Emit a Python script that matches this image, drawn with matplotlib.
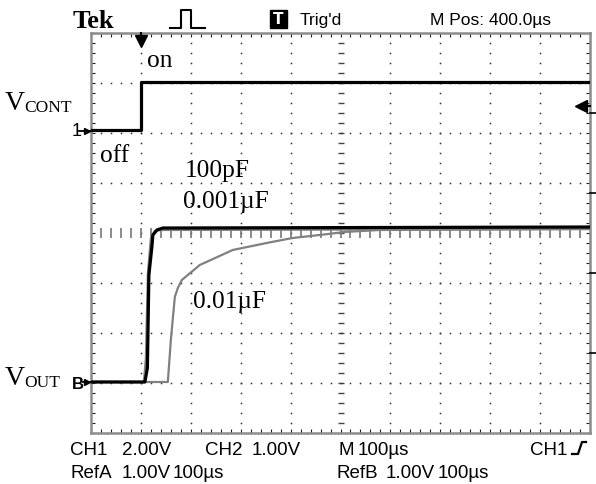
import matplotlib
matplotlib.use('Agg')
import matplotlib.pyplot as plt
import numpy as np

# ---- data (graticule divisions; 100 us/div horizontally) ----
vcont_t = [0, 1.0, 1.0, 10]
vcont_v = [6.06, 6.06, 7.02, 7.02]

v100p_t = [0, 1.08, 1.13, 1.16, 1.22, 1.24, 1.32, 1.44, 1.6, 10]
v100p_v = [1.02, 1.02, 1.3, 3.16, 3.72, 3.96, 4.06, 4.1, 4.1, 4.12]

v1n_t = [0, 1.06, 1.10, 1.14, 1.20, 1.28, 1.40, 10]
v1n_v = [1.02, 1.02, 1.5, 3.2, 3.9, 4.04, 4.06, 4.08]

v10n_t = [0, 1.54, 1.60, 1.68, 1.74, 1.82, 2.18, 2.84, 3.52, 4.04, 4.58, 5.08, 5.78, 10]
v10n_v = [1.02, 1.02, 1.86, 2.72, 2.9, 3.06, 3.36, 3.66, 3.8, 3.9, 3.96, 4.02, 4.06, 4.08]

W, H = 596, 484
SERIF = 'Liberation Serif'
SCOPE = ['Liberation Sans', 'DejaVu Sans']

fig = plt.figure(figsize=(W / 100, H / 100), dpi=100)
ax = fig.add_axes([91 / W, 51 / H, 499 / W, 400 / H])
ax.set_xlim(0, 10)
ax.set_ylim(0, 8)

# graticule
minor = np.arange(0.2, 10.0, 0.2)
minor_y = np.arange(0.2, 8.0, 0.2)
for gx in range(1, 10):
    if gx == 5:
        ax.plot(np.full_like(minor_y, 5.0), minor_y, ls='none', marker='_',
                ms=4, mew=1, color='#444444', zorder=1)
    else:
        ax.plot(np.full_like(minor_y, float(gx)), minor_y, ls='none', marker='s',
                ms=1.1, mew=0, color='#333333', zorder=1)
for gy in range(1, 8):
    if gy == 4:
        ax.plot(minor, np.full_like(minor, 4.0), ls='none', marker='|',
                ms=7, mew=1.2, color='#777777', zorder=1)
    else:
        ax.plot(minor, np.full_like(minor, float(gy)), ls='none', marker='s',
                ms=1.1, mew=0, color='#333333', zorder=1)

for s in ax.spines.values():
    s.set_color('#8c8c8c')
    s.set_linewidth(1.8)
ax.set_xticks(np.arange(0, 10.01, 0.2))
ax.set_yticks(np.arange(0, 8.01, 0.2))
ax.tick_params(direction='in', length=3, width=0.8, color='#222222',
               top=True, bottom=True, left=True, right=True,
               labelbottom=False, labelleft=False)

# traces
ax.plot(v10n_t, v10n_v, color='#808080', lw=1.6, zorder=3)
ax.plot(v1n_t, v1n_v, color='#808080', lw=1.6, zorder=3)
ax.plot(v100p_t, v100p_v, color='black', lw=2.3, zorder=4)
ax.plot(vcont_t, vcont_v, color='black', lw=2.3, zorder=4)

# overlay in pixel coordinates
ov = fig.add_axes([0, 0, 1, 1], zorder=10)
ov.set_xlim(0, W)
ov.set_ylim(H, 0)
ov.axis('off')
ov.patch.set_alpha(0)

def t(x, y, s, size, family=SCOPE, weight='normal', color='black'):
    ov.text(x, y, s, fontsize=size, family=family, weight=weight, color=color,
            ha='left', va='baseline')

# header
t(73, 28, 'Tek', 19, family=SERIF, weight='bold')
ov.plot([170, 181, 181, 191, 191, 205], [28, 28, 10, 10, 28, 28], color='black', lw=1.5)
ov.add_patch(plt.Rectangle((270, 10), 17, 18, color='black'))
ov.text(278.5, 19.5, 'T', color='white', fontsize=11, family='DejaVu Sans',
        weight='bold', ha='center', va='center')
t(300, 25, "Trig'd", 12.5)
t(430, 25, 'M Pos: 400.0µs', 12.5)

# trigger position marker
ov.plot([141, 141], [33, 42], color='black', lw=1.5)
ov.plot([141], [41], marker='v', ms=8, color='black')
# trigger level arrow (right)
ov.plot([578, 590], [106, 106], color='black', lw=1.5)
ov.plot([581], [106], marker='<', ms=8, color='black')
for yy in (113, 193, 273, 353):
    ov.plot([590, 596], [yy, yy], color='black', lw=1.2)

# channel markers on the left
t(72, 136, '1', 13)
ov.plot([79, 90], [131, 131], color='black', lw=1.3)
ov.plot([87], [131], marker='>', ms=5, color='black')
t(72, 389, 'B', 12, weight='bold')
ov.plot([83, 90], [382, 382], color='black', lw=1.3)
ov.plot([87], [382], marker='>', ms=5, color='black')

# annotations (serif)
afs = 18.3
t(5, 110, 'V', 20, family=SERIF)
t(24, 112, 'CONT', 12.5, family=SERIF)
t(5, 385, 'V', 20, family=SERIF)
t(24, 387, 'OUT', 12.5, family=SERIF)
t(147, 67, 'on', afs, family=SERIF)
t(100, 162, 'off', afs, family=SERIF)
t(185, 177, '100pF', afs, family=SERIF)
t(183, 208, '0.001µF', afs, family=SERIF)
t(193, 308, '0.01µF', afs, family=SERIF)

# bottom readouts
fs = 13.5
t(70, 455, 'CH1', fs)
t(122, 455, '2.00V', fs)
t(205, 455, 'CH2', fs)
t(252, 455, '1.00V', fs)
t(338, 455, 'M', fs)
t(358, 455, '100µs', fs)
t(530, 455, 'CH1', fs)
ov.plot([572, 578, 582, 586], [454, 454, 442, 442], color='black', lw=1.6)
t(70, 478, 'RefA', fs)
t(122, 478, '1.00V', fs)
t(173, 478, '100µs', fs)
t(337, 478, 'RefB', fs)
t(386, 478, '1.00V', fs)
t(438, 478, '100µs', fs)

fig.savefig('out.png', dpi=100)
